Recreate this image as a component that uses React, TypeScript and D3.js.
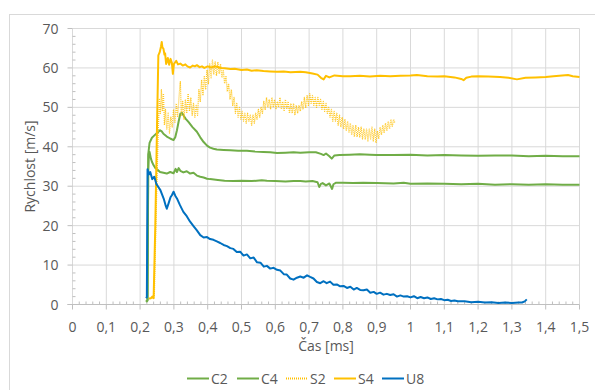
import * as d3 from 'd3';

const W = 595;
const H = 390;
const MARGIN = { top: 28.5, right: 15.5, bottom: 85.5, left: 72.5 };

const X_TICKS = [0, 0.1, 0.2, 0.3, 0.4, 0.5, 0.6, 0.7, 0.8, 0.9, 1, 1.1, 1.2, 1.3, 1.4, 1.5];
const Y_TICKS = [0, 10, 20, 30, 40, 50, 60, 70];

const SERIES_NAMES = ['C2', 'C4', 'S2', 'S4', 'U8'];
const SERIES_COLORS = ['#70AD47', '#70AD47', '#FFC000', '#FFC000', '#0070C0'];

// [time ms, velocity m/s]
const c2: [number, number][] = [
  [0.218, 0.8], [0.222, 1.2], [0.224, 34.0], [0.226, 38.3], [0.228, 38.7], [0.232, 37.0], [0.235, 36.2],
  [0.24, 35.3], [0.245, 34.6], [0.25, 34.3], [0.259, 33.6], [0.269, 33.4], [0.279, 33.2], [0.289, 33.6],
  [0.299, 33.3], [0.305, 34.4], [0.309, 33.6], [0.314, 34.6], [0.319, 33.9], [0.328, 33.5], [0.338, 33.8],
  [0.348, 33.2], [0.358, 33.4], [0.368, 32.7], [0.378, 32.4], [0.388, 32.2], [0.398, 31.9], [0.407, 31.8],
  [0.43, 31.6], [0.45, 31.4], [0.476, 31.3], [0.5, 31.4], [0.53, 31.3], [0.56, 31.5], [0.575, 31.4],
  [0.6, 31.3], [0.63, 31.2], [0.654, 31.3], [0.674, 31.3], [0.69, 31.2], [0.71, 31.3], [0.725, 31.0],
  [0.73, 29.8], [0.735, 30.6], [0.74, 30.8], [0.75, 30.2], [0.76, 30.7], [0.768, 29.3], [0.772, 30.5],
  [0.78, 30.9], [0.8, 30.9], [0.83, 30.8], [0.86, 30.9], [0.9, 30.8], [0.95, 30.7], [0.98, 30.9],
  [1.0, 30.6], [1.05, 30.7], [1.1, 30.6], [1.15, 30.5], [1.2, 30.6], [1.25, 30.4], [1.3, 30.5],
  [1.35, 30.4], [1.4, 30.5], [1.45, 30.4], [1.5, 30.4],
];

const c4: [number, number][] = [
  [0.218, 0.6], [0.222, 1.0], [0.224, 38.0], [0.228, 41.0], [0.235, 42.3], [0.24, 42.7], [0.25, 43.5],
  [0.259, 44.2], [0.264, 43.9], [0.269, 43.3], [0.279, 42.6], [0.289, 42.1], [0.299, 41.7], [0.304, 42.4],
  [0.309, 44.2], [0.314, 46.4], [0.319, 48.4], [0.324, 48.6], [0.328, 48.0], [0.335, 47.1], [0.343, 46.3],
  [0.355, 45.0], [0.368, 43.8], [0.378, 42.4], [0.388, 41.2], [0.398, 40.3], [0.407, 39.8], [0.417, 39.5],
  [0.427, 39.3], [0.447, 39.2], [0.467, 39.1], [0.49, 39.0], [0.516, 39.0], [0.54, 38.8], [0.565, 38.7],
  [0.585, 38.6], [0.605, 38.4], [0.63, 38.5], [0.654, 38.6], [0.674, 38.5], [0.7, 38.6], [0.72, 38.6],
  [0.735, 38.2], [0.743, 37.9], [0.75, 38.3], [0.76, 37.6], [0.767, 37.0], [0.775, 37.8], [0.79, 37.9],
  [0.82, 38.0], [0.85, 38.1], [0.88, 38.0], [0.9, 37.9], [0.95, 37.9], [1.0, 38.0], [1.05, 37.8],
  [1.1, 37.9], [1.15, 37.8], [1.2, 37.7], [1.25, 37.8], [1.3, 37.8], [1.35, 37.6], [1.4, 37.7],
  [1.45, 37.6], [1.5, 37.6],
];

const s2: [number, number][] = [
  [0.228, 1.5], [0.236, 1.6], [0.242, 2.0], [0.248, 25], [0.254, 45], [0.257, 52], [0.26, 48.5],
  [0.263, 54.5], [0.266, 49.0], [0.269, 53.5], [0.272, 45.5], [0.275, 49.5], [0.279, 44.5], [0.283, 48.5],
  [0.287, 43.5], [0.291, 47.5], [0.295, 45.0], [0.299, 49.5], [0.303, 46.0], [0.307, 51.0], [0.311, 47.5],
  [0.315, 52.5], [0.319, 56.5], [0.322, 48.0], [0.326, 51.5], [0.33, 47.0], [0.334, 52.0], [0.338, 48.5],
  [0.342, 53.5], [0.346, 49.0], [0.35, 52.5], [0.354, 48.0], [0.358, 51.0], [0.362, 47.5], [0.366, 50.5],
  [0.37, 48.0], [0.374, 54.5], [0.378, 51.5], [0.382, 57.0], [0.386, 53.0], [0.39, 58.0], [0.394, 54.5],
  [0.398, 59.5], [0.402, 56.0], [0.406, 61.0], [0.41, 57.5], [0.414, 62.0], [0.418, 58.5], [0.422, 61.5],
  [0.426, 58.0], [0.43, 61.5], [0.434, 58.5], [0.438, 61.0], [0.442, 57.5], [0.446, 59.5], [0.45, 56.0],
  [0.454, 58.0], [0.458, 54.0], [0.462, 56.0], [0.466, 52.0], [0.47, 54.5], [0.474, 50.5], [0.478, 52.5],
  [0.482, 48.5], [0.486, 51.0], [0.49, 47.5], [0.494, 50.0], [0.498, 47.0], [0.502, 49.0], [0.506, 46.5],
  [0.51, 48.5], [0.514, 46.0], [0.518, 48.5], [0.522, 46.5], [0.526, 48.0], [0.53, 45.5], [0.534, 48.0],
  [0.538, 46.0], [0.542, 48.5], [0.546, 47.0], [0.55, 49.5], [0.554, 47.5], [0.558, 50.0], [0.562, 48.5],
  [0.566, 51.5], [0.57, 49.5], [0.574, 52.5], [0.578, 50.0], [0.582, 52.0], [0.586, 49.5], [0.59, 52.5],
  [0.594, 50.0], [0.598, 52.0], [0.602, 49.5], [0.606, 51.5], [0.61, 50.0], [0.614, 52.5], [0.618, 49.5],
  [0.622, 51.5], [0.626, 49.0], [0.63, 52.0], [0.634, 49.5], [0.638, 51.5], [0.642, 48.5], [0.646, 51.0],
  [0.65, 48.5], [0.654, 51.0], [0.658, 48.0], [0.662, 50.5], [0.666, 48.5], [0.67, 50.5], [0.674, 49.0],
  [0.678, 51.5], [0.682, 49.5], [0.686, 52.5], [0.69, 50.0], [0.694, 53.0], [0.698, 50.5], [0.702, 53.5],
  [0.706, 51.0], [0.71, 53.0], [0.714, 50.5], [0.718, 52.5], [0.722, 50.0], [0.726, 52.5], [0.73, 50.5],
  [0.734, 52.0], [0.738, 49.5], [0.742, 51.5], [0.746, 49.0], [0.75, 51.0], [0.754, 48.5], [0.758, 50.0],
  [0.762, 47.5], [0.766, 49.5], [0.77, 46.5], [0.774, 49.0], [0.778, 46.5], [0.782, 48.5], [0.786, 45.5],
  [0.79, 48.0], [0.794, 45.0], [0.798, 47.5], [0.802, 44.5], [0.806, 47.0], [0.81, 44.0], [0.814, 46.5],
  [0.818, 43.5], [0.822, 46.0], [0.826, 43.0], [0.83, 45.5], [0.834, 42.5], [0.838, 45.5], [0.842, 42.5],
  [0.846, 45.0], [0.85, 42.5], [0.854, 45.0], [0.858, 42.0], [0.862, 44.5], [0.866, 42.0], [0.87, 44.5],
  [0.874, 41.5], [0.878, 44.5], [0.882, 42.0], [0.886, 45.0], [0.89, 41.5], [0.894, 44.5], [0.898, 41.0],
  [0.902, 44.0], [0.906, 42.0], [0.91, 45.0], [0.914, 43.0], [0.918, 45.5], [0.922, 43.5], [0.926, 46.0],
  [0.93, 44.0], [0.934, 46.5], [0.938, 44.5], [0.942, 47.0], [0.946, 45.0], [0.95, 47.0], [0.954, 46.0],
];

const s4: [number, number][] = [
  [0.226, 1.5], [0.232, 1.6], [0.236, 2.0], [0.24, 1.6], [0.245, 20], [0.25, 45], [0.254, 63.2],
  [0.258, 64.0], [0.262, 65.5], [0.264, 66.6], [0.266, 65.2], [0.269, 64.9], [0.272, 63.4], [0.274, 63.7],
  [0.277, 61.0], [0.279, 61.5], [0.282, 62.5], [0.286, 60.8], [0.29, 62.3], [0.294, 61.3], [0.297, 58.5],
  [0.3, 61.0], [0.307, 61.8], [0.312, 60.9], [0.319, 61.1], [0.326, 60.6], [0.334, 60.9], [0.34, 60.4],
  [0.348, 60.1], [0.356, 60.6], [0.362, 60.4], [0.368, 60.7], [0.376, 60.2], [0.383, 60.4], [0.39, 60.0],
  [0.4, 60.4], [0.41, 60.1], [0.42, 60.4], [0.427, 60.3], [0.44, 60.0], [0.45, 59.9], [0.467, 59.7],
  [0.48, 59.8], [0.5, 59.5], [0.516, 59.6], [0.53, 59.3], [0.545, 59.4], [0.565, 59.2], [0.585, 59.1],
  [0.605, 59.0], [0.625, 59.1], [0.645, 58.9], [0.674, 59.0], [0.69, 58.9], [0.71, 58.6], [0.725, 58.3],
  [0.735, 57.5], [0.743, 57.1], [0.75, 58.0], [0.76, 57.6], [0.775, 58.1], [0.8, 57.9], [0.822, 57.9],
  [0.85, 58.0], [0.88, 57.8], [0.91, 58.0], [0.94, 57.9], [0.97, 58.0], [1.0, 58.1], [1.019, 58.2],
  [1.05, 57.9], [1.08, 57.8], [1.1, 57.9], [1.13, 57.6], [1.15, 57.2], [1.157, 56.9], [1.165, 57.5],
  [1.18, 57.8], [1.2, 57.9], [1.23, 57.8], [1.265, 57.7], [1.29, 57.5], [1.315, 57.1], [1.34, 57.5],
  [1.37, 57.6], [1.4, 57.7], [1.423, 57.9], [1.44, 58.0], [1.466, 58.2], [1.48, 57.9], [1.5, 57.7],
];

const u8: [number, number][] = [
  [0.218, 1.6], [0.22, 1.9], [0.222, 34.3], [0.226, 33.0], [0.23, 33.6], [0.236, 31.8], [0.242, 32.4],
  [0.248, 30.6], [0.254, 29.8], [0.26, 29.0], [0.264, 28.1], [0.27, 26.8], [0.276, 25.0], [0.279, 24.3],
  [0.284, 25.6], [0.29, 27.2], [0.294, 27.7], [0.299, 28.6], [0.304, 27.6], [0.309, 26.9], [0.318, 25.2],
  [0.328, 23.5], [0.338, 22.4], [0.348, 21.0], [0.358, 19.9], [0.368, 18.8], [0.378, 17.6], [0.388, 17.0],
  [0.398, 17.1], [0.407, 16.6], [0.417, 16.4], [0.427, 16.0], [0.437, 15.6], [0.447, 15.1], [0.457, 14.8],
  [0.467, 14.3], [0.476, 14.1], [0.486, 13.3], [0.496, 13.4], [0.506, 12.4], [0.516, 12.7], [0.526, 11.7],
  [0.536, 11.9], [0.546, 10.7], [0.556, 10.6], [0.566, 9.6], [0.575, 9.8], [0.585, 9.1], [0.595, 9.3],
  [0.605, 8.8], [0.615, 8.6], [0.625, 7.7], [0.634, 7.6], [0.644, 6.6], [0.654, 6.3], [0.664, 6.8],
  [0.674, 7.1], [0.684, 6.8], [0.694, 7.4], [0.703, 7.0], [0.713, 6.6], [0.723, 5.7], [0.733, 5.4],
  [0.743, 5.9], [0.752, 5.4], [0.762, 5.8], [0.772, 5.0], [0.782, 5.1], [0.792, 4.6], [0.802, 4.7],
  [0.812, 4.2], [0.822, 4.5], [0.832, 3.8], [0.841, 4.2], [0.851, 3.7], [0.861, 3.6], [0.871, 3.8],
  [0.881, 3.0], [0.891, 3.2], [0.9, 2.7], [0.91, 3.0], [0.92, 2.5], [0.93, 2.7], [0.94, 2.4],
  [0.95, 2.6], [0.96, 2.0], [0.97, 2.3], [0.98, 2.0], [0.99, 2.1], [1.0, 1.8], [1.01, 2.1],
  [1.02, 1.6], [1.03, 1.9], [1.04, 1.6], [1.05, 1.8], [1.06, 1.4], [1.07, 1.6], [1.08, 1.3],
  [1.09, 1.4], [1.1, 1.1], [1.11, 1.2], [1.12, 0.9], [1.13, 1.0], [1.14, 0.8], [1.16, 0.8],
  [1.18, 0.6], [1.2, 0.7], [1.22, 0.5], [1.24, 0.6], [1.26, 0.4], [1.28, 0.5], [1.3, 0.4],
  [1.32, 0.5], [1.33, 0.5], [1.338, 0.8], [1.344, 1.3],
];

const SERIES = [c2, c4, s2, s4, u8];

const FONT = '"Open Sans", "Liberation Sans", sans-serif';
const TEXT = '#595959';
const GRID = '#D9D9D9';

export default function App() {
  const innerW = W - MARGIN.left - MARGIN.right;
  const innerH = H - MARGIN.top - MARGIN.bottom;

  const x = d3.scaleLinear().domain([0, 1.5]).range([0, innerW]);
  const y = d3.scaleLinear().domain([0, 70]).range([innerH, 0]);

  const line = d3.line<[number, number]>().x(d => x(d[0])).y(d => y(d[1]));

  // minor ticks every fifth of a major step
  const xMinor = d3.range(0, 75).map(i => i * 0.02).filter((_, i) => i % 5 !== 0);
  const yMinor = d3.range(0, 35).map(i => i * 2).filter((_, i) => i % 5 !== 0);

  const fmt = (v: number) => String(+v.toFixed(1)).replace('.', ',');

  const legendX = [187, 237, 286, 334, 382];

  return (
    <div style={{ position: 'absolute', left: 0, top: 0 }}>
      <svg width={W} height={H} style={{ display: 'block', background: '#fff' }}>
        <rect x={9.5} y={14.5} width={W} height={H} fill="#fff" stroke={GRID} />
        <g transform={`translate(${MARGIN.left},${MARGIN.top})`}>
          {/* grid */}
          {X_TICKS.filter(t => t > 0).map(t => (
            <line key={`gx${t}`} x1={x(t)} x2={x(t)} y1={0} y2={innerH} stroke={GRID} strokeWidth={1} />
          ))}
          {Y_TICKS.filter(t => t > 0).map(t => (
            <line key={`gy${t}`} x1={0} x2={innerW} y1={y(t)} y2={y(t)} stroke={GRID} strokeWidth={1} />
          ))}

          {/* axes */}
          <line x1={0} x2={0} y1={0} y2={innerH} stroke={GRID} />
          <line x1={-5} x2={innerW} y1={innerH} y2={innerH} stroke="#BFBFBF" />
          {Y_TICKS.map(t => (
            <line key={`ty${t}`} x1={-5} x2={0} y1={y(t)} y2={y(t)} stroke="#BFBFBF" />
          ))}
          {yMinor.map(t => (
            <line key={`my${t}`} x1={0} x2={3} y1={y(t)} y2={y(t)} stroke="#BFBFBF" />
          ))}
          {X_TICKS.map(t => (
            <line key={`tx${t}`} x1={x(t)} x2={x(t)} y1={innerH} y2={innerH + 5} stroke="#BFBFBF" />
          ))}
          {xMinor.map(t => (
            <line key={`mx${t}`} x1={x(t)} x2={x(t)} y1={innerH} y2={innerH - 3} stroke="#BFBFBF" />
          ))}

          {/* tick labels */}
          {Y_TICKS.map(t => (
            <text key={`ly${t}`} x={-14} y={y(t)} dy="0.36em" textAnchor="end"
              fontFamily={FONT} fontSize={14} fill={TEXT}>{t}</text>
          ))}
          {X_TICKS.map(t => (
            <text key={`lx${t}`} x={x(t)} y={innerH + 27} textAnchor="middle"
              fontFamily={FONT} fontSize={14} fill={TEXT}>{fmt(t)}</text>
          ))}

          {/* series */}
          {SERIES.map((s, i) => (
            <path key={SERIES_NAMES[i]} d={line(s) ?? ''} fill="none" stroke={SERIES_COLORS[i]}
              strokeWidth={SERIES_NAMES[i] === 'S2' ? 1.3 : 2}
              strokeDasharray={SERIES_NAMES[i] === 'S2' ? '1,1' : undefined}
              strokeOpacity={SERIES_NAMES[i] === 'S2' ? 0.85 : 1}
              strokeLinejoin="round" />
          ))}
        </g>

        {/* axis titles */}
        <text x={MARGIN.left + innerW / 2} y={351} textAnchor="middle"
          fontFamily={FONT} fontSize={14} fill={TEXT}>Čas [ms]</text>
        <text transform={`translate(35,${MARGIN.top + innerH / 2}) rotate(-90)`} textAnchor="middle"
          fontFamily={FONT} fontSize={14} fill={TEXT}>Rychlost [m/s]</text>

        {/* legend */}
        {SERIES_NAMES.map((n, i) => (
          <g key={`lg${n}`} transform={`translate(${legendX[i]},378.5)`}>
            <line x1={0} x2={22} y1={0} y2={0} stroke={SERIES_COLORS[i]} strokeWidth={2}
              strokeDasharray={n === 'S2' ? '1,1' : undefined} />
            <text x={24} y={0} dy="0.36em" fontFamily={FONT} fontSize={14} fill={TEXT}>{n}</text>
          </g>
        ))}
      </svg>
    </div>
  );
}
